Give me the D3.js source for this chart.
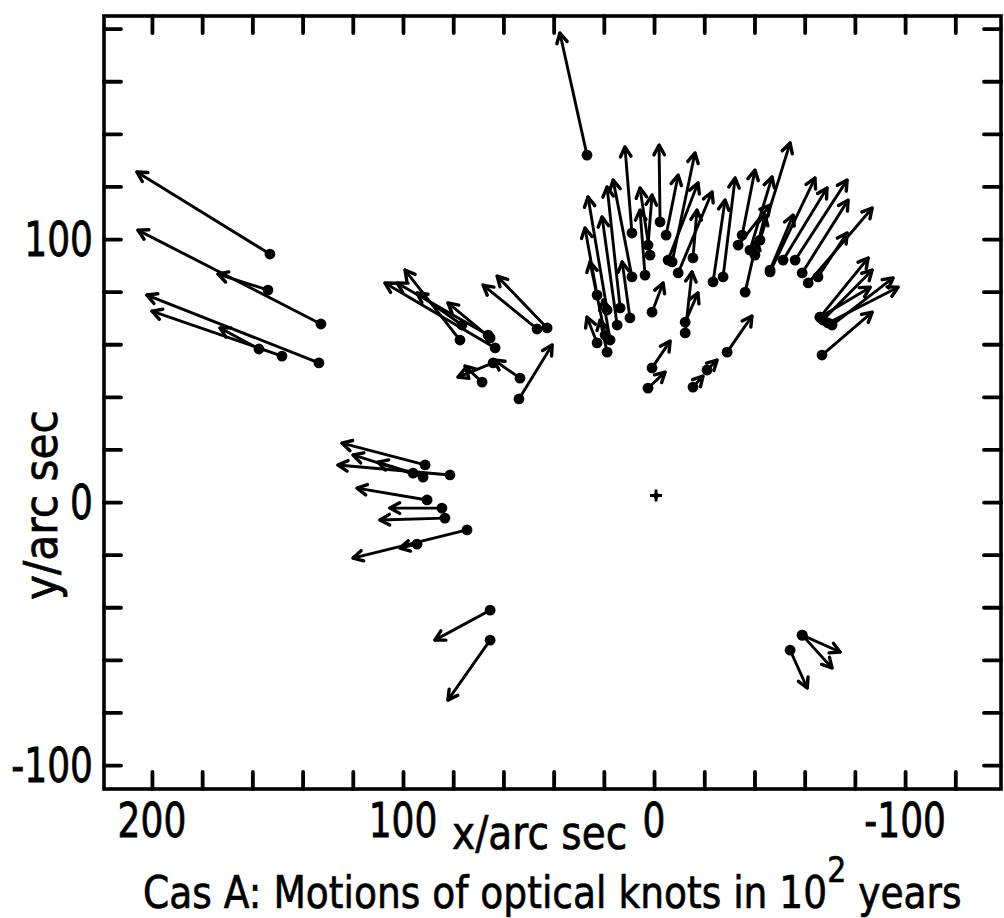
<!DOCTYPE html>
<html><head><meta charset="utf-8">
<script src="https://cdn.jsdelivr.net/npm/d3@7"></script>
<style>body{margin:0;background:#fff}svg{display:block}</style></head>
<body><svg id="chart" width="1004" height="918"></svg>
<script>
// Optical knots of Cas A: position now (x0,y0) and projected position after 100 years (x1,y1), arc sec
const x0 = [153.0,132.7,153.8,133.5,148.2,157.4, 77.3,63.3,66.1,76.5,65.3,46.6,42.6,53.8,53.4,64.1,68.5,
  91.2,81.3,92.0,96.0,90.4,84.5,83.3,74.5,94.4, 65.3,65.3,-59.0,-59.0,-54.2, 26.7,
  8.8,-2.4,-7.2,-4.8,8.8,13.5,18.7,1.6,-27.5,-9.6,-5.6,14.7,22.7,-15.5,9.6,0.8,22.7,18.7,17.5,-12.4,-12.4,
  0.8,2.4,-15.5,-21.1,-29.1,-23.5,-36.3, -66.9,-66.1,-66.1,-67.3,-70.9,-69.3,-56.2,-59.0,-61.4,-51.4,-46.2,
  -65.3,-46.2,-42.2,-35.1,-38.2,19.5,3.6,2.4,-40.2,-33.5];
const y0 = [94.3,67.7,80.6,52.9,55.5,58.2, 61.6,58.6,63.5,67.3,62.4,65.8,66.2,39.2,47.1,52.9,45.6,
  14.1,10.3,9.5,11.0,0.8,-2.3,-6.1,-10.6,-16.0, -41.1,-52.5,-50.6,-50.6,-56.3, 131.9,
  102.3,106.5,91.3,101.5,85.6,73.8,73.0,93.9,85.6,87.1,92.0,67.3,78.7,92.8,70.0,72.2,60.5,57.0,61.6,64.3,68.4,
  51.0,43.3,43.7,50.2,57.0,83.7,79.8, 55.9,70.3,70.3,69.2,67.3,68.1,92.0,87.1,83.3,92.0,87.5,
  85.6,88.2,99.6,101.5,95.8,63.5,86.3,97.7,93.9,97.7];
const x1 = [206.0,205.6,173.7,202.0,200.0,172.9, 99.2,107.2,102.4,94.4,82.1,68.1,62.5,40.6,63.7,78.1,75.3,
  124.3,125.9,119.9,110.0,118.3,105.2,109.2,119.9,101.2, 87.3,82.1,-74.1,-70.9,-61.0, 37.5,
  11.6,-2.0,-16.3,-9.6,16.3,18.7,26.3,5.6,-32.3,-23.1,-17.5,20.7,27.5,-17.1,12.7,-3.6,26.7,21.5,20.3,-15.1,-17.5,
  -6.4,-4.4,-19.5,-25.1,-39.0,-28.3,-41.0, -86.9,-86.1,-85.3,-86.9,-95.2,-97.2,-76.9,-77.3,-86.9,-68.9,-64.1,
  -76.9,-55.4,-54.2,-40.2,-47.0,25.5,5.6,0.8,-44.2,-46.2];
const y1 = [125.5,103.4,86.7,78.7,72.6,66.2, 88.2,83.3,83.3,79.5,75.7,82.5,85.9,59.7,54.0,47.5,51.7,
  22.4,14.1,17.9,15.2,5.3,-2.3,-6.8,-21.3,-17.5, -52.5,-75.3,-57.0,-63.1,-70.7, 178.3,
  135.0,135.7,132.7,124.3,122.4,119.8,116.0,119.4,123.2,117.9,121.3,108.4,104.2,111.0,91.3,83.3,70.3,69.2,76.8,87.5,79.5,
  61.2,49.4,47.9,54.0,70.7,114.8,99.6, 72.2,81.7,92.8,88.2,85.2,81.7,122.4,114.8,111.8,119.4,123.2,
  102.3,109.1,136.5,126.2,123.6,91.3,111.0,116.7,109.1,112.9];
// expansion centre
const centre = [-0.8, 2.5];

const xTicks = [200,180,160,140,120,100,80,60,40,20,0,-20,-40,-60,-80,-100,-120];
const yTicks = [180,160,140,120,100,80,60,40,20,0,-20,-40,-60,-80,-100];
const xLabels = [200,100,0,-100];
const yLabels = [100,0,-100];
const xExtent = [219.1,-138.2];
const yExtent = [184.8,-109.1];

const svg = d3.select("#chart");
const x = d3.scaleLinear().domain(xExtent).range([104,1001]);
const y = d3.scaleLinear().domain(yExtent).range([16,789]);

const FONT = "'DejaVu Sans', sans-serif";
const tickLen = 17;

// inward ticks on all four sides
function styleAxis(g){
  g.select(".domain").remove();
  g.selectAll(".tick line").attr("stroke","#000").attr("stroke-width",3.8).attr("stroke-linecap","round");
  g.selectAll(".tick text").remove();
}
svg.append("g").attr("transform",`translate(0,${y(yExtent[1])})`)
  .call(d3.axisBottom(x).tickValues(xTicks).tickSize(-tickLen).tickFormat("")).call(styleAxis);
svg.append("g").attr("transform",`translate(0,${y(yExtent[0])})`)
  .call(d3.axisTop(x).tickValues(xTicks).tickSize(-tickLen).tickFormat("")).call(styleAxis);
svg.append("g").attr("transform",`translate(${x(xExtent[0])},0)`)
  .call(d3.axisLeft(y).tickValues(yTicks).tickSize(-tickLen).tickFormat("")).call(styleAxis);
svg.append("g").attr("transform",`translate(${x(xExtent[1])},0)`)
  .call(d3.axisRight(y).tickValues(yTicks).tickSize(-tickLen).tickFormat("")).call(styleAxis);

// frame
svg.append("rect")
  .attr("x",x(xExtent[0])).attr("y",y(yExtent[0]))
  .attr("width",x(xExtent[1])-x(xExtent[0])).attr("height",y(yExtent[1])-y(yExtent[0]))
  .attr("fill","none").attr("stroke","#000").attr("stroke-width",3.6);

// tick labels
const lab = svg.append("g").attr("font-family",FONT).attr("font-size",48).attr("fill","#000")
  .attr("stroke","#000").attr("stroke-width",0.8);
xLabels.forEach(v=>{
  lab.append("g").attr("transform",`translate(${x(v)},837) scale(0.75,1)`)
    .append("text").attr("text-anchor","middle").text(v);
});
yLabels.forEach(v=>{
  lab.append("g").attr("transform",`translate(93,${y(v)+17}) scale(0.75,1)`)
    .append("text").attr("text-anchor","end").text(v);
});

// axis titles
const titles = svg.append("g").attr("font-family",FONT).attr("fill","#000")
  .attr("stroke","#000").attr("stroke-width",0.7);
titles.append("g").attr("transform","translate(452,849) scale(0.85,1)")
  .append("text").attr("font-size",46).text("x/arc sec");
titles.append("g").attr("transform","translate(57,600) rotate(-90) scale(0.92,1)")
  .append("text").attr("font-size",46).text("y/arc sec");
const title = titles.append("g").attr("transform","translate(143,908) scale(0.835,1)")
  .append("text").attr("font-size",45);
title.append("tspan").text("Cas A: Motions of optical knots in 10");
title.append("tspan").attr("font-size",36).attr("dy",-26).text("2");
title.append("tspan").attr("dy",26).text(" years");

// knot motion arrows
const marks = svg.append("g").attr("stroke","#000").attr("fill","#000");
const headLen = 11, headAng = 0.5;
x0.forEach((_,i)=>{
  const sx = x(x0[i]), sy = y(y0[i]), ex = x(x1[i]), ey = y(y1[i]);
  const a = Math.atan2(ey-sy, ex-sx);
  marks.append("line").attr("x1",sx).attr("y1",sy).attr("x2",ex).attr("y2",ey)
    .attr("stroke-width",2.9).attr("stroke-linecap","round");
  const p = d3.path();
  p.moveTo(ex - headLen*Math.cos(a-headAng), ey - headLen*Math.sin(a-headAng));
  p.lineTo(ex, ey);
  p.lineTo(ex - headLen*Math.cos(a+headAng), ey - headLen*Math.sin(a+headAng));
  marks.append("path").attr("d",p.toString()).attr("fill","none")
    .attr("stroke-width",3.4).attr("stroke-linecap","round").attr("stroke-linejoin","round");
  marks.append("circle").attr("cx",sx).attr("cy",sy).attr("r",5.4).attr("stroke","none");
});

// centre cross
const cx = x(centre[0]), cy = y(centre[1]);
marks.append("path").attr("d",`M${cx-6},${cy}H${cx+6}M${cx},${cy-6}V${cy+6}`)
  .attr("stroke-width",2.8).attr("fill","none");
marks.append("circle").attr("cx",cx).attr("cy",cy).attr("r",2.8).attr("stroke","none");
</script>
</body></html>
